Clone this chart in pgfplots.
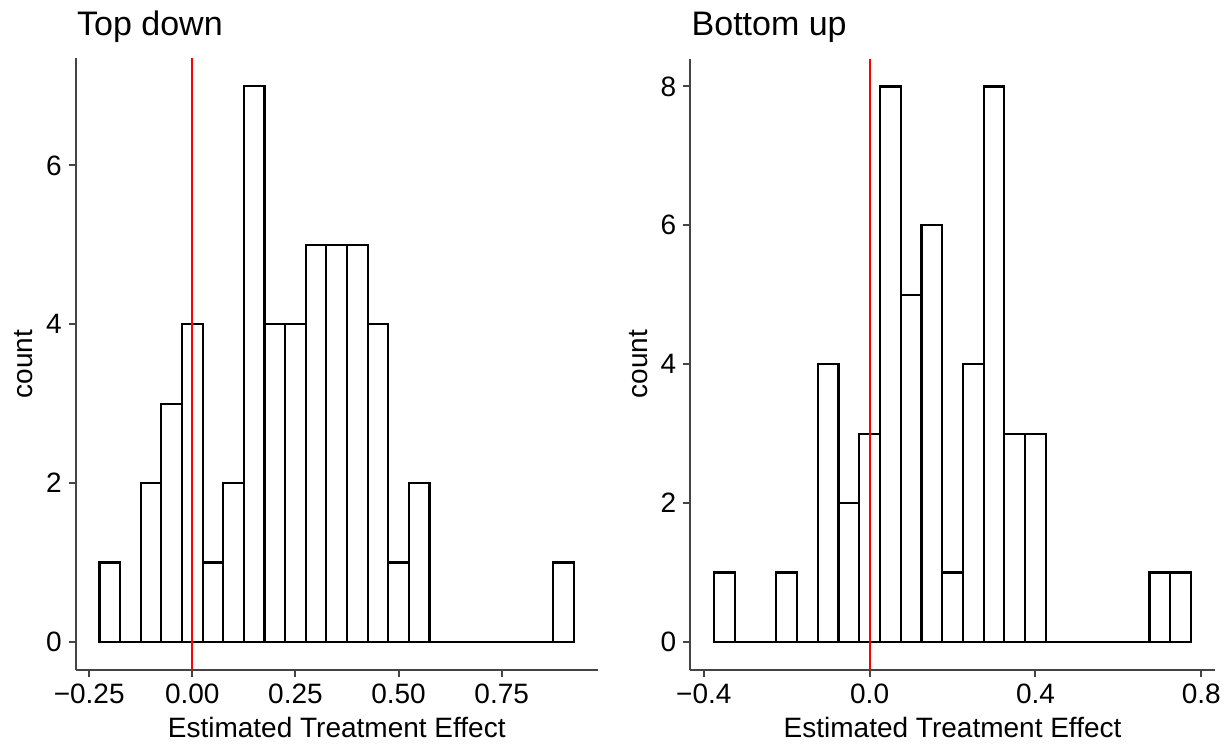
\documentclass[border=0pt]{standalone}
\usepackage{fontspec}
\setmainfont{Liberation Sans}
\usepackage{pgfplots}
\usepackage{pgfplotstable}
\pgfplotsset{compat=1.18}

\definecolor{axgray}{HTML}{444444}

% bin centres (width 0.05) and counts
\pgfplotstableread{
x     n
-0.20 1
-0.15 0
-0.10 2
-0.05 3
0.00  4
0.05  1
0.10  2
0.15  7
0.20  4
0.25  4
0.30  5
0.35  5
0.40  5
0.45  4
0.50  1
0.55  2
0.60  0
0.65  0
0.70  0
0.75  0
0.80  0
0.85  0
0.90  1
}\topdown

\pgfplotstableread{
x     n
-0.35 1
-0.30 0
-0.25 0
-0.20 1
-0.15 0
-0.10 4
-0.05 2
0.00  3
0.05  8
0.10  5
0.15  6
0.20  1
0.25  4
0.30  8
0.35  3
0.40  3
0.45  0
0.50  0
0.55  0
0.60  0
0.65  0
0.70  1
0.75  1
}\bottomup

\pgfplotsset{
  hist/.style={
    scale only axis,
    anchor=south west,
    axis lines*=left,
    axis line style={draw=axgray, line width=1pt},
    every tick/.style={draw=axgray, line width=1pt},
    tick align=outside,
    major tick length=3.5pt,
    minor tick num=0,
    tick label style={font=\fontsize{14}{15}\selectfont, text=black},
    label style={font=\fontsize{14}{16}\selectfont},
    title style={font=\fontsize{17}{19}\selectfont, at={(axis description cs:0,1)},
      anchor=base west, yshift=5.5pt, xshift=0.5pt, inner sep=0pt},
    xlabel style={at={(axis description cs:0.5,0)}, anchor=base, yshift=-33.8pt, inner sep=0pt},
    ylabel style={at={(axis description cs:0,0.5)}, anchor=base, yshift=21.5pt, inner sep=0pt},
    xlabel={Estimated Treatment Effect},
    ylabel={count},
  },
  bars/.style={ybar, bar width=0.05, bar shift=0pt, fill=white, draw=black, line width=1.1pt},
  zline/.style={red, line width=1pt},
}

\begin{document}
\begin{tikzpicture}
\useasboundingbox (0,0) rectangle (612pt,371.5pt);

\begin{axis}[hist,
  at={(37.9pt,36.65pt)}, width=260.9pt, height=305.7pt,
  title={Top down},
  xmin=-0.2825, xmax=0.9825, ymin=-0.35, ymax=7.35,
  xtick={-0.25,0,0.25,0.5,0.75},
  xticklabels={−0.25,0.00,0.25,0.50,0.75},
  ytick={0,2,4,6}, yticklabels={0,2,4,6},
]
\addplot[bars] table[x=x, y=n] {\topdown};
\addplot[zline] coordinates {(0,-0.35) (0,7.35)};
\end{axis}

\begin{axis}[hist,
  at={(345.15pt,36.65pt)}, width=262.25pt, height=305.5pt,
  title={Bottom up},
  xmin=-0.4325, xmax=0.8325, ymin=-0.4, ymax=8.4,
  xtick={-0.4,0,0.4,0.8},
  xticklabels={−0.4,0.0,0.4,0.8},
  ytick={0,2,4,6,8}, yticklabels={0,2,4,6,8},
]
\addplot[bars] table[x=x, y=n] {\bottomup};
\addplot[zline] coordinates {(0,-0.4) (0,8.4)};
\end{axis}
\end{tikzpicture}
\end{document}
